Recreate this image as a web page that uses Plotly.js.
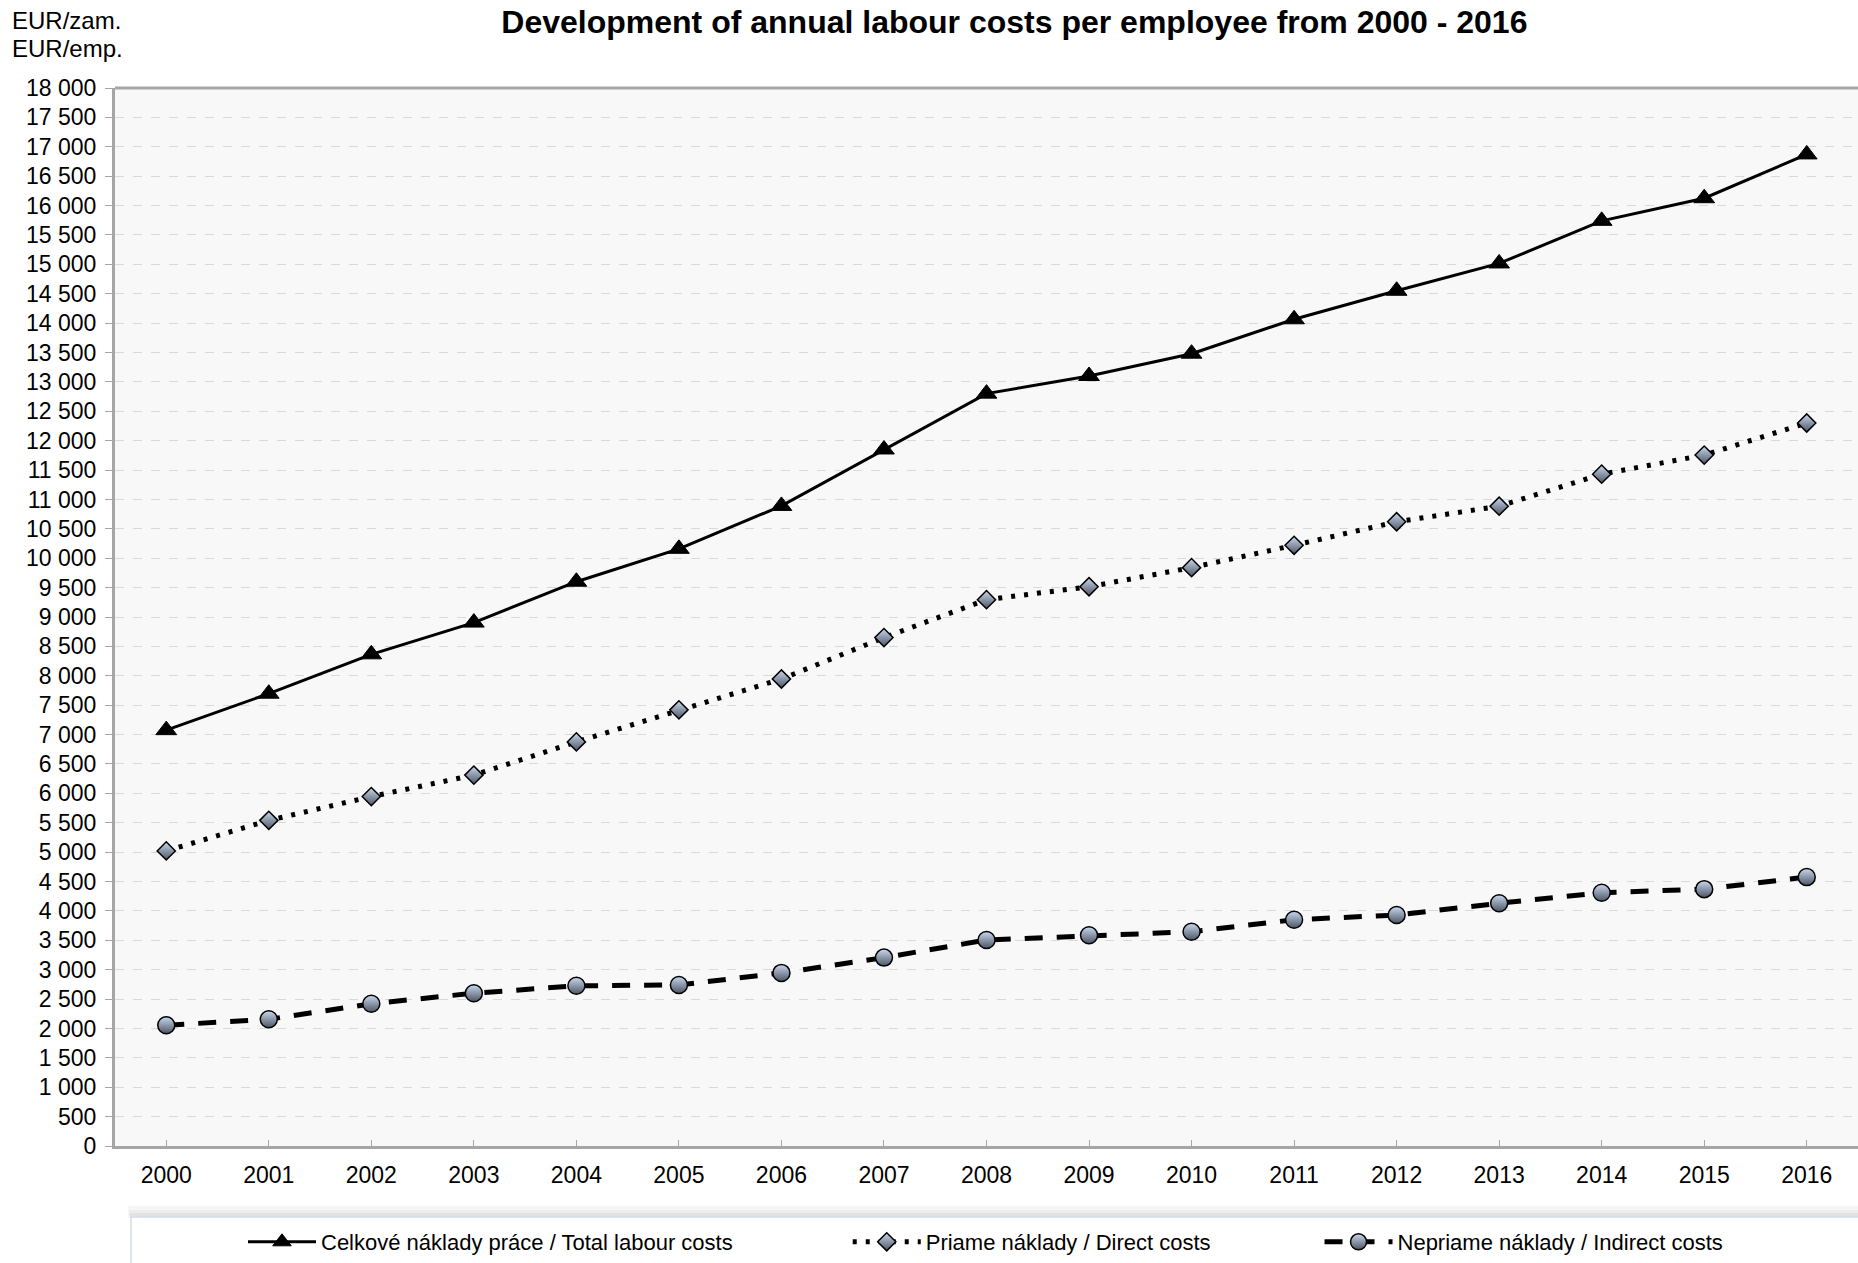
<!DOCTYPE html>
<html>
<head>
<meta charset="utf-8">
<script src="https://cdn.plot.ly/plotly-3.0.1.min.js"></script>
<style>html,body{margin:0;padding:0;background:#fff;}#chart{width:1858px;height:1263px;}</style>
</head>
<body>
<div id="chart"></div>
<script>
const years = ['2000','2001','2002','2003','2004','2005','2006','2007','2008','2009','2010','2011','2012','2013','2014','2015','2016'];
const totalCosts = [7075, 7695, 8365, 8905, 9600, 10160, 10890, 11850, 12800, 13100, 13480, 14065, 14550, 15015, 15740, 16125, 16870];
const directCosts = [5020, 5540, 5945, 6310, 6875, 7420, 7945, 8650, 9295, 9515, 9840, 10220, 10620, 10885, 11430, 11755, 12300];
const indirectCosts = [2055, 2155, 2420, 2600, 2725, 2740, 2945, 3205, 3505, 3585, 3645, 3850, 3930, 4130, 4310, 4370, 4575];
const seriesNames = ['Celkové náklady práce / Total labour costs', 'Priame náklady / Direct costs', 'Nepriame náklady / Indirect costs'];
const titleText = 'Development of annual labour costs per employee from 2000 - 2016';
const unitLabels = ['EUR/zam.', 'EUR/emp.'];

const FONT = '"Liberation Sans", Arial, sans-serif';

const traces = [
  {x: years, y: totalCosts, name: seriesNames[0] + '\u00a0'.repeat(18), type: 'scatter', mode: 'lines+markers',
   line: {color: '#000', width: 3},
   marker: {symbol: 'triangle-up', size: 18, color: '#000', line: {color: '#000', width: 1}}},
  {x: years, y: directCosts, name: seriesNames[1] + '\u00a0'.repeat(17), type: 'scatter', mode: 'lines+markers',
   line: {color: '#000', width: 5, dash: '4px,9px'},
   marker: {symbol: 'diamond', size: 14, color: '#c9d9ef', gradient: {type: 'vertical', color: '#4d5563'}, line: {color: '#000', width: 1.5}}},
  {x: years, y: indirectCosts, name: seriesNames[2], type: 'scatter', mode: 'lines+markers',
   line: {color: '#000', width: 5, dash: '18px,14px'},
   marker: {symbol: 'circle', size: 17, color: '#c9d9ef', gradient: {type: 'vertical', color: '#4d5563'}, line: {color: '#000', width: 1.5}}}
];

const py = v => -(v - 1146) / 1058;  // pixel row -> paper y (below plot)

const layout = {
  width: 1858, height: 1263,
  margin: {l: 115, r: 0, t: 88, b: 117, pad: 0},
  paper_bgcolor: '#ffffff',
  plot_bgcolor: '#f8f8f8',
  separators: ', ',
  font: {family: FONT, size: 23, color: '#000'},
  title: {text: '<b>' + titleText + '</b>', font: {family: FONT, size: 32, color: '#000'},
          x: 0.516, xref: 'paper', xanchor: 'center', y: 1 - 22/1263, yref: 'container', yanchor: 'middle'},
  xaxis: {type: 'category', range: [-0.5, 16.5], showgrid: false, zeroline: false,
          showline: true, linecolor: '#a6a6a6', linewidth: 3, mirror: false,
          ticks: 'inside', ticklen: 6, tickwidth: 1, tickcolor: '#a6a6a6',
          ticklabelstandoff: 6, tickfont: {family: FONT, size: 23, color: '#000'}},
  yaxis: {range: [0, 18000], dtick: 500, tick0: 0, tickformat: ',.0f', showgrid: true, gridcolor: '#d9d9d9', griddash: 'dash', gridwidth: 1,
          zeroline: false, showline: true, linecolor: '#a6a6a6', linewidth: 3, mirror: false,
          ticks: 'outside', ticklen: 7, tickwidth: 1, tickcolor: '#a6a6a6',
          ticklabelstandoff: 4, tickfont: {family: FONT, size: 23, color: '#000'}},
  showlegend: true,
  legend: {orientation: 'h', x: (243-115)/1743, xanchor: 'left', y: py(1242), yanchor: 'middle',
           bgcolor: 'rgba(0,0,0,0)', borderwidth: 0, itemwidth: 68,
           font: {family: FONT, size: 22, color: '#000'}, traceorder: 'normal'},
  shapes: [
    {type: 'line', xref: 'paper', yref: 'paper', x0: 0, x1: 1, y0: 1, y1: 1, line: {color: '#a6a6a6', width: 3}},
    {type: 'rect', xref: 'paper', yref: 'paper', x0: (128-115)/1743, x1: 1.01, y0: py(1206), y1: py(1218), fillcolor: '#f6f6f6', line: {width: 0}, layer: 'below'},
    {type: 'rect', xref: 'paper', yref: 'paper', x0: (129-115)/1743, x1: 1.01, y0: py(1210), y1: py(1218), fillcolor: '#ededed', line: {width: 0}, layer: 'below'},
    {type: 'rect', xref: 'paper', yref: 'paper', x0: (130-115)/1743, x1: 1.01, y0: py(1213), y1: py(1218), fillcolor: '#e2e2e2', line: {width: 0}, layer: 'below'},
    {type: 'rect', xref: 'paper', yref: 'paper', x0: (131-115)/1743, x1: 1.01, y0: py(1217), y1: py(1280),
     fillcolor: '#ffffff', line: {color: '#d4dde8', width: 1.5}, layer: 'below'}
  ],
  annotations: [
    {text: unitLabels[0], xref: 'paper', yref: 'paper', x: -(115-10)/1743, y: 1 + (88-21)/1058, xanchor: 'left', yanchor: 'middle', showarrow: false, font: {family: FONT, size: 24, color: '#000'}},
    {text: unitLabels[1], xref: 'paper', yref: 'paper', x: -(115-10)/1743, y: 1 + (88-49)/1058, xanchor: 'left', yanchor: 'middle', showarrow: false, font: {family: FONT, size: 24, color: '#000'}}
  ]
};

Plotly.newPlot('chart', traces, layout, {displayModeBar: false, staticPlot: true});
</script>
</body>
</html>
